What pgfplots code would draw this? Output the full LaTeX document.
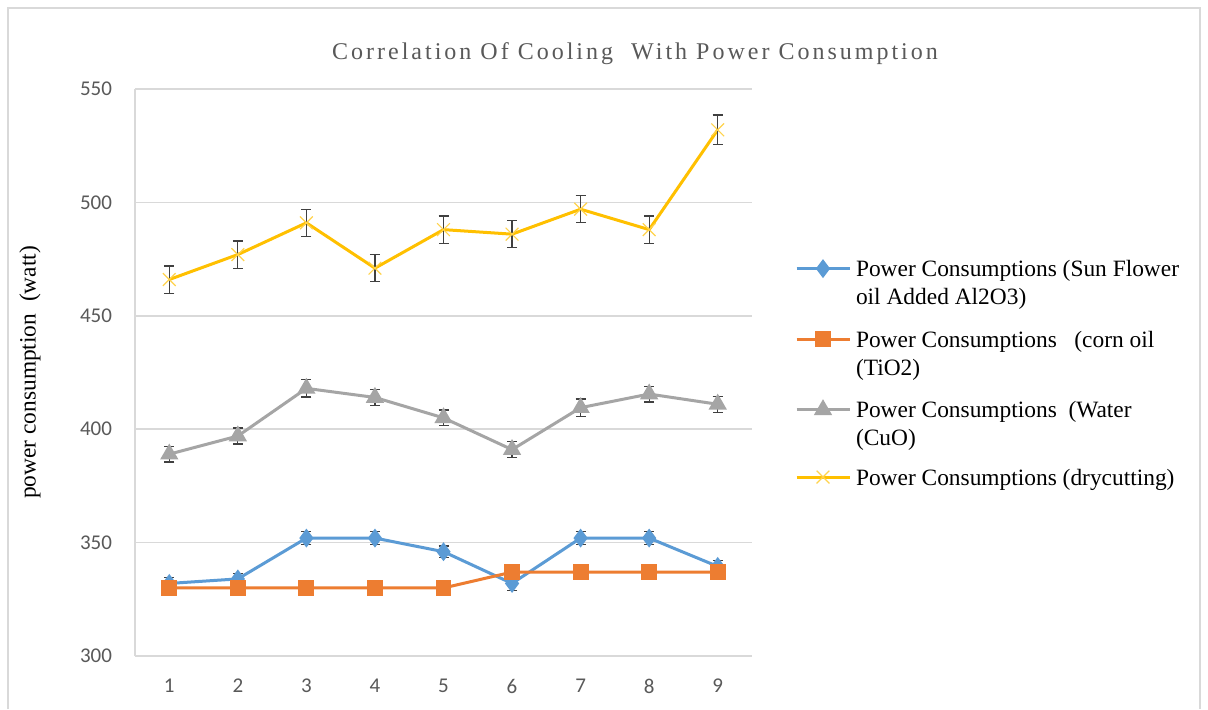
\documentclass[border=0pt]{standalone}
\usepackage{fontspec}
\setmainfont{Liberation Serif}
\newfontfamily\tickfont{Carlito}
\newfontfamily\titlefont[LetterSpace=12.5]{Liberation Serif}
\usepackage{pgfplots}
\usepackage{pgfplotstable}
\pgfplotsset{compat=1.18}
\definecolor{sblue}{HTML}{5B9BD5}
\definecolor{sorange}{HTML}{ED7D31}
\definecolor{sgray}{HTML}{A5A5A5}
\definecolor{sgold}{HTML}{FFC000}
\definecolor{gridgray}{HTML}{D9D9D9}
\definecolor{textgray}{HTML}{595959}
\definecolor{errgray}{HTML}{404040}

\pgfplotstableread{
x y e
1 332 2.5
2 334 2.5
3 352 3
4 352 3
5 346 2.5
6 332 3
7 352 3
8 352 3
9 339.5 2.5
}\sunflower
\pgfplotstableread{
x y
1 330
2 330
3 330
4 330
5 330
6 337
7 337
8 337
9 337
}\cornoil
\pgfplotstableread{
x y e
1 389 3.5
2 397 3.5
3 418 3.8
4 414 3.5
5 405 3.5
6 391 3.5
7 409.5 3.8
8 415.5 3.5
9 411 3.5
}\water
\pgfplotstableread{
x y e
1 466 6
2 477 6
3 491 6
4 471 6
5 488 6
6 486 6
7 497 6
8 488 6
9 532 6.5
}\dry

\pgfplotsset{
  twoline legend/.style={legend image code/.code={\draw[mark repeat=2,mark phase=2] plot coordinates {(0pt,18pt)(13.25pt,18pt)(26.5pt,18pt)};}},
  oneline legend/.style={legend image code/.code={\draw[mark repeat=2,mark phase=2] plot coordinates {(0pt,4pt)(13.25pt,4pt)(26.5pt,4pt)};}},
}

\begin{document}
\begin{tikzpicture}
\useasboundingbox (0,0) rectangle (604pt,354.5pt);
\fill[white] (0,0) rectangle (604pt,354.5pt);
\draw[gridgray, line width=0.75pt] (4pt,0) -- (4pt,350.5pt) -- (600pt,350.5pt) -- (600pt,0);
\node[anchor=base, text=textgray, font=\titlefont\fontsize{12}{14}\selectfont] at (317.5pt,325pt) {Correlation Of Cooling\ \ With Power Consumption};
\begin{axis}[
  at={(67.5pt,26.5pt)}, anchor=south west, scale only axis,
  width=308.5pt, height=283.5pt,
  xmin=0.5, xmax=9.5, ymin=300, ymax=550,
  xtick={1,...,9}, ytick={300,350,...,550},
  ymajorgrids, major grid style={gridgray, line width=0.75pt},
  axis lines*=left, axis line style={gridgray, line width=0.75pt, -},
  major tick length=0pt,
  /pgf/number format/assume math mode=true,
  ticklabel style={font=\tickfont\fontsize{10.5}{12}\selectfont, text=textgray},
  yticklabel style={xshift=-8pt},
  xticklabel style={yshift=-8pt},
  every axis y label/.style={at={(axis description cs:-0.170,0.5)}, rotate=90, anchor=center},
  ylabel={\fontsize{11.7}{14}\selectfont power consumption\ \ (watt)},
  legend style={at={(1.0697,0.7037)}, anchor=north west, draw=none, fill=none,
    inner sep=0pt, outer sep=0pt, row sep=10pt, column sep=2.5pt,
    font=\fontsize{11.7}{14}\selectfont, cells={anchor=base west}, nodes={inner sep=0pt}},
  error bars/error bar style={color=errgray, line width=0.6pt, solid},
  error bars/error mark options={color=errgray, mark size=2.5pt, line width=0.6pt, solid, rotate=90},
]
\addplot[sblue, line width=1.5pt, mark=diamond*, mark size=3.5pt, mark options={solid, fill=sblue, draw=sblue}, twoline legend,
  error bars/.cd, y dir=both, y explicit] table[x=x, y=y, y error=e] {\sunflower};
\addlegendentry{\begin{tabular}[b]{@{}l@{}}Power Consumptions (Sun Flower\\oil Added Al2O3)\end{tabular}}
\addplot[sorange, line width=1.5pt, mark=square*, mark size=3.2pt, mark options={solid, fill=sorange, draw=sorange}, twoline legend]
  table[x=x, y=y] {\cornoil};
\addlegendentry{\begin{tabular}[b]{@{}l@{}}Power Consumptions\ \ \ (corn oil\\(TiO2)\end{tabular}}
\addplot[sgray, line width=1.5pt, mark=triangle*, mark size=3.8pt, mark options={solid, fill=sgray, draw=sgray}, twoline legend,
  error bars/.cd, y dir=both, y explicit] table[x=x, y=y, y error=e] {\water};
\addlegendentry{\begin{tabular}[b]{@{}l@{}}Power Consumptions\ \ (Water\\(CuO)\end{tabular}}
\addplot[sgold, line width=1.5pt, mark=x, mark size=4.5pt, mark options={solid, draw=sgold!70, line width=0.6pt}, oneline legend,
  error bars/.cd, y dir=both, y explicit] table[x=x, y=y, y error=e] {\dry};
\addlegendentry{Power Consumptions (drycutting)}
\end{axis}
\end{tikzpicture}
\end{document}
